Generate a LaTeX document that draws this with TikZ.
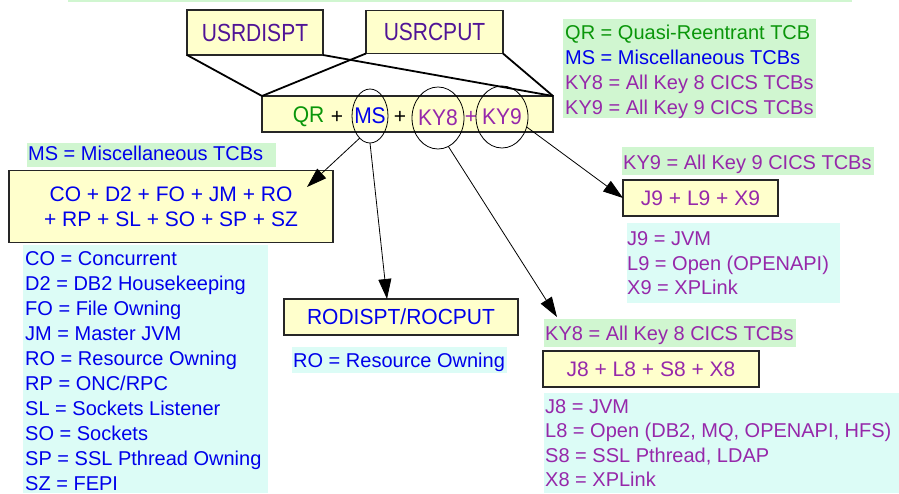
\documentclass[tikz,border=0pt]{standalone}
\usepackage{fontspec}
\setmainfont{Liberation Sans}
\usetikzlibrary{shapes.geometric,arrows.meta}
\definecolor{boxfill}{RGB}{255,255,204}
\definecolor{greenbg}{RGB}{208,246,208}
\definecolor{cyanbg}{RGB}{220,252,246}
\definecolor{qrgreen}{RGB}{10,150,10}
\definecolor{msblue}{RGB}{0,0,235}
\definecolor{kypurple}{RGB}{150,40,170}
\definecolor{usrpurple}{RGB}{80,20,150}
\newcommand{\legfont}{\fontsize{20}{24}\selectfont}
\newcommand{\boxfont}{\fontsize{21}{25}\selectfont}
\newcommand{\tall}[2][1.18]{\scalebox{1}[#1]{#2}}

\begin{document}
\begin{tikzpicture}[x=1pt, y=-1pt,
	tcb/.style={draw=black!85, line width=1.3pt, fill=boxfill, inner sep=0pt, outer sep=0pt, font=\boxfont},
	circ/.style={draw, ellipse, line width=0.8pt, inner sep=0pt, outer sep=0pt, font=\boxfont},
	tie/.style={line width=1.8pt},
	link/.style={line width=0.8pt, -{Triangle[length=20pt,width=13pt]}},
	def/.style={anchor=base west, inner sep=0pt, font=\legfont}]
	\useasboundingbox (0,0) rectangle (899,493);

	% shaded backgrounds of the legends
	\fill[greenbg] (68,0) rectangle (852,1.5);
	\fill[greenbg] (563,19) rectangle (816,118);
	\fill[greenbg] (27,143) rectangle (276,167);
	\fill[greenbg] (622,147) rectangle (874,175);
	\fill[greenbg] (544,319) rectangle (796,347);
	\fill[cyanbg] (23,245) rectangle (268,493);
	\fill[cyanbg] (292,347) rectangle (507,373);
	\fill[cyanbg] (627,223) rectangle (840,303);
	\fill[cyanbg] (544,393) rectangle (899,493);

	% Boxes
	\node[tcb, minimum width=136, minimum height=45, text=usrpurple] (usrdispt) at (255,32.5) {\tall{USRDISPT}};
	\node[tcb, minimum width=137, minimum height=43, text=usrpurple] (usrcput) at (434.5,32) {\tall{USRCPUT}};
	\node[tcb, minimum width=291, minimum height=36] (tcbs) at (407.5,114) {};
	\node[tcb, minimum width=324, minimum height=72, text=msblue, align=center] (msbox) at (171,206.5) {CO + D2 + FO + JM + RO\\+ RP + SL + SO + SP + SZ};
	\node[tcb, minimum width=234, minimum height=36, text=msblue] (robox) at (401,317) {\tall[1.04]{RODISPT/ROCPUT}};
	\node[tcb, minimum width=155, minimum height=36, text=kypurple] (j9box) at (700.5,198) {J9 + L9 + X9};
	\node[tcb, minimum width=216, minimum height=36, text=kypurple] (j8box) at (651,369) {J8 + L8 + S8 + X8};

	% QR + MS + KY8 + KY9
	\node[font=\boxfont, text=qrgreen] (qr) at (308.5,117) {\tall[1.08]{QR}};
	\node[font=\boxfont] (plus1) at (337,117) {+};
	\node[circ, minimum width=36, minimum height=54, text=msblue] (ms) at (370,116) {\makebox[0pt]{\tall[1.08]{MS}}};
	\node[font=\boxfont] (plus2) at (400,117) {+};
	\node[circ, minimum width=52, minimum height=62, text=kypurple] (ky8) at (438,118) {\makebox[0pt]{\tall[1.08]{KY8}}};
	\node[font=\boxfont, text=kypurple] (plus3) at (471,117) {+};
	\node[circ, minimum width=52, minimum height=62, text=kypurple] (ky9) at (502,117) {\makebox[0pt]{\tall[1.08]{KY9}}};

	\draw[tie] (usrdispt.south west) -- (tcbs.north west);
	\draw[tie] (usrdispt.south east) -- (tcbs.north east);
	\draw[tie] (usrcput.south west) -- (tcbs.north west);
	\draw[tie] (usrcput.south east) -- (tcbs.north east);

	% arrows
	\coordinate (msin) at (307,187);
	\coordinate (ky8tip) at (557,317);
	\draw[link] (ms.-115) -- (msin);
	\draw[link] (ms.south) -- ([xshift=-14pt]robox.north);
	\draw[link] (ky8.-70) -- (ky8tip);
	\draw[link] (ky9.-22) -- (j9box.west);

	% Legends
	\node[def, text=qrgreen] (qrdef) at (565,39) {QR = Quasi-Reentrant TCB};
	\node[def, text=msblue] (msdef) at (565,64) {MS = Miscellaneous TCBs};
	\node[def, text=kypurple] (kyeight) at (565,89) {KY8 = All Key 8 CICS TCBs};
	\node[def, text=kypurple] (kynine) at (565,114) {KY9 = All Key 9 CICS TCBs};

	\node[def, text=msblue] (mshead) at (28,160) {MS = Miscellaneous TCBs};
	\foreach \txt [count=\i] in {CO = Concurrent, D2 = DB2 Housekeeping, FO = File Owning,
		JM = Master JVM, RO = Resource Owning, RP = ONC/RPC, SL = Sockets Listener,
		SO = Sockets, SP = SSL Pthread Owning, SZ = FEPI}
		\node[def, text=msblue] (msitem\i) at (25,240.2+25*\i) {\txt};

	\node[def, text=msblue] (rodef) at (293,367) {RO = Resource Owning};

	\node[def, text=kypurple] (ky9head) at (623,169) {KY9 = All Key 9 CICS TCBs};
	\node[def, text=kypurple] (j9def) at (627,245) {J9 = JVM};
	\node[def, text=kypurple] (l9def) at (627,270) {L9 = Open (OPENAPI)};
	\node[def, text=kypurple] (x9def) at (627,294.5) {X9 = XPLink};

	\node[def, text=kypurple] (ky8head) at (545,340) {KY8 = All Key 8 CICS TCBs};
	\node[def, text=kypurple] (j8def) at (545,413) {J8 = JVM};
	\node[def, text=kypurple] (l8def) at (545,437.5) {L8 = Open (DB2, MQ, OPENAPI, HFS)};
	\node[def, text=kypurple] (s8def) at (545,462) {S8 = SSL Pthread, LDAP};
	\node[def, text=kypurple] (x8def) at (545,486.5) {X8 = XPLink};
\end{tikzpicture}
\end{document}
